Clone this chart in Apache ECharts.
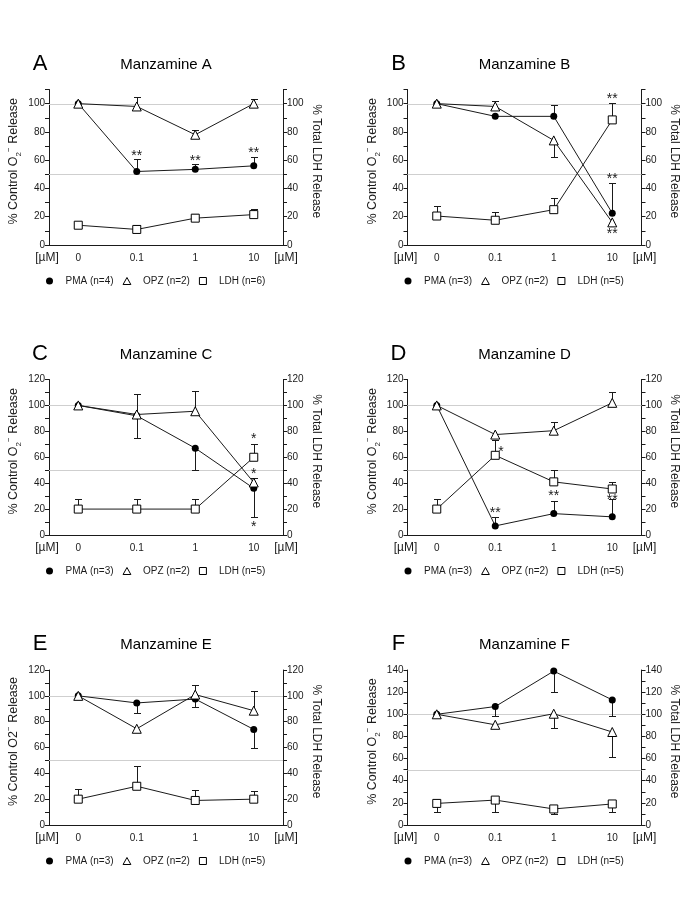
<!DOCTYPE html>
<html>
<head>
<meta charset="utf-8">
<script src="https://cdn.jsdelivr.net/npm/echarts@6/dist/echarts.min.js"></script>
<style>
  html, body { margin: 0; padding: 0; background: #fff; }
  #chart { width: 685px; height: 916px; }
</style>
</head>
<body>
<div id="chart"></div>
<script>
// ---- data ----
const doses = ['0', '0.1', '1', '10'];
const letters = ['A', 'B', 'C', 'D', 'E', 'F'];
const titles = ['Manzamine A', 'Manzamine B', 'Manzamine C', 'Manzamine D', 'Manzamine E', 'Manzamine F'];
const yMaxes = [110, 110, 120, 120, 120, 140];
const nPMA = [4, 3, 3, 3, 3, 3];
const nOPZ = [2, 2, 2, 2, 2, 2];
const nLDH = [6, 5, 5, 5, 5, 5];
const refLines = [50, 100];

// Manzamine A
const pmaA = [100, 52, 53.5, 56];
const pmaErrA = [null, 61, 57, 62];
const opzA = [100, 98, 78, 100];
const opzErrA = [null, 105, 81, 103];
const ldhA = [14, 11, 19, 21.5];
const ldhErrA = [null, 14, 22, 25.5];
const starsA = [[1, 65, '**'], [2, 61.5, '**'], [3, 67, '**']];

// Manzamine B
const pmaB = [100, 91, 91, 22.5];
const pmaErrB = [null, null, 99, 44];
const opzB = [100, 98, 74, 16];
const opzErrB = [null, 102, 62, null];
const ldhB = [20.5, 17.5, 25, 88.5];
const ldhErrB = [27.5, 23, 33.5, 100.5];
const starsB = [[3, 105, '**'], [3, 48.5, '**'], [3, 9.5, '**']];

// Manzamine C
const pmaC = [100, 92, 67, 36];
const pmaErrC = [null, 75, 50, 14];
const opzC = [100, 93, 95.5, 40.5];
const opzErrC = [null, 109, 111.5, 44];
const ldhC = [20, 20, 20, 60];
const ldhErrC = [27.5, 27.5, 27.5, 70.5];
const starsC = [[3, 76.5, '*'], [3, 49, '*'], [3, 8.5, '*']];

// Manzamine D
const pmaD = [100, 7, 16.5, 14];
const pmaErrD = [null, 14, 26.5, 28];
const opzD = [100, 77.5, 80.5, 102];
const opzErrD = [null, null, 87, 110];
const ldhD = [20, 61.5, 41, 35.5];
const ldhErrD = [27.5, 73, 50, 41];
const starsD = [[1, 19.5, '**'], [1, 66, '*', 'right'], [2, 32, '**'], [3, 29.5, '**']];

// Manzamine E
const pmaE = [100, 94.5, 97.5, 74];
const pmaErrE = [null, 86.5, 91, 60];
const opzE = [100, 74.5, 101, 88.5];
const opzErrE = [null, null, 108.5, 104];
const ldhE = [20, 30, 19, 20];
const ldhErrE = [27.5, 45.5, 27, 26.5];
const starsE = [];

// Manzamine F
const pmaF = [100, 107, 139, 113];
const pmaErrF = [null, 98.5, 120.5, 98.5];
const opzF = [100, 90.5, 100.5, 84];
const opzErrF = [null, null, 88, 61];
const ldhF = [19.5, 22.5, 14.5, 19];
const ldhErrF = [11.5, 11.5, 9.5, 11.5];
const starsF = [];

const panels = [
  { pma: pmaA, pmaErr: pmaErrA, opz: opzA, opzErr: opzErrA, ldh: ldhA, ldhErr: ldhErrA, stars: starsA },
  { pma: pmaB, pmaErr: pmaErrB, opz: opzB, opzErr: opzErrB, ldh: ldhB, ldhErr: ldhErrB, stars: starsB },
  { pma: pmaC, pmaErr: pmaErrC, opz: opzC, opzErr: opzErrC, ldh: ldhC, ldhErr: ldhErrC, stars: starsC },
  { pma: pmaD, pmaErr: pmaErrD, opz: opzD, opzErr: opzErrD, ldh: ldhD, ldhErr: ldhErrD, stars: starsD },
  { pma: pmaE, pmaErr: pmaErrE, opz: opzE, opzErr: opzErrE, ldh: ldhE, ldhErr: ldhErrE, stars: starsE },
  { pma: pmaF, pmaErr: pmaErrF, opz: opzF, opzErr: opzErrF, ldh: ldhF, ldhErr: ldhErrF, stars: starsF },
];

// ---- layout ----
const FONT = '"Liberation Sans", Arial, Helvetica, sans-serif';
const INK = '#1a1a1a';
const colLeft = [49, 407.5];
const plotW = 234;
const rowTop = [89.5, 379.5, 670];
const plotH = [155.5, 155.5, 155];
const TRI_ICON = 'path://M5,0L10,9L0,9Z';
const SQ_ICON = 'path://M0,0H10V10H0Z';

const chart = echarts.init(document.getElementById('chart'));

const grids = [], xAxes = [], yAxes = [], series = [], legends = [], graphics = [];

const tickFmt = v => (v % 20 === 0 ? String(v) : '');

panels.forEach((p, i) => {
  const col = i % 2, row = Math.floor(i / 2);
  const left = colLeft[col], top = rowTop[row], h = plotH[row];
  const bottom = top + h;
  grids.push({ left: left, top: top, width: plotW, height: h });

  xAxes.push({
    gridIndex: i, type: 'category', data: doses, boundaryGap: true,
    axisLine: { lineStyle: { color: INK, width: 1 } },
    axisTick: { show: false },
    axisLabel: { fontSize: 10, color: INK, fontFamily: FONT, margin: 8 },
    splitLine: { show: false }
  });

  const yBase = {
    gridIndex: i, type: 'value', min: 0, max: yMaxes[i], interval: 10,
    axisLine: { show: true, lineStyle: { color: INK, width: 1 } },
    axisTick: { show: true, length: 4, lineStyle: { color: INK } },
    axisLabel: { fontSize: 10, color: INK, fontFamily: FONT, margin: 4, formatter: tickFmt },
    splitLine: { show: false },
    nameLocation: 'middle'
  };
  const o2Name = i === 4 ? '% Control O2{sup|−} Release' : '% Control O{sub|2}{sup|−} Release';
  yAxes.push(Object.assign({}, yBase, {
    position: 'left',
    name: o2Name, nameRotate: 90, nameGap: 26,
    nameTextStyle: {
      fontSize: 12.5, color: INK, fontFamily: FONT, lineHeight: 18, padding: [0, 0, 0, 12],
      rich: {
        sub: { fontSize: 8, lineHeight: 8, verticalAlign: 'bottom', fontFamily: FONT, color: INK },
        sup: { fontSize: 8, lineHeight: 8, verticalAlign: 'top', fontFamily: FONT, color: INK }
      }
    }
  }));
  yAxes.push(Object.assign({}, yBase, {
    position: 'right',
    name: '% Total LDH Release', nameRotate: -90, nameGap: 27,
    nameTextStyle: { fontSize: 12, color: INK, fontFamily: FONT, padding: [0, 12, 0, 0] }
  }));

  const pmaName = 'PMA (n=' + nPMA[i] + ')';
  const opzName = 'OPZ (n=' + nOPZ[i] + ')';
  const ldhName = 'LDH (n=' + nLDH[i] + ')';

  // reference lines at 50 and 100
  series.push({
    type: 'custom', xAxisIndex: i, yAxisIndex: 2 * i, z: 1, silent: true,
    data: refLines.map(v => [0, v]),
    renderItem: (params, api) => {
      const cs = params.coordSys;
      const y = Math.round(api.coord([0, api.value(1)])[1]) + 0.5;
      return { type: 'line', shape: { x1: cs.x, y1: y, x2: cs.x + cs.width, y2: y },
        style: { stroke: '#cfcfcf', lineWidth: 1 } };
    }
  });

  // error bars (one-sided, T-shaped)
  const errData = [];
  [[p.pma, p.pmaErr], [p.opz, p.opzErr], [p.ldh, p.ldhErr]].forEach(([vals, errs]) => {
    errs.forEach((e, k) => { if (e != null) errData.push([k, vals[k], e]); });
  });
  series.push({
    type: 'custom', xAxisIndex: i, yAxisIndex: 2 * i, z: 2, silent: true,
    encode: { x: 0, y: 1 },
    data: errData,
    renderItem: (params, api) => {
      const a = api.coord([api.value(0), api.value(1)]);
      const b = api.coord([api.value(0), api.value(2)]);
      const x = Math.round(a[0]) + 0.5;
      const yb = Math.round(b[1]) + 0.5;
      return { type: 'group', children: [
        { type: 'line', shape: { x1: x, y1: a[1], x2: x, y2: yb }, style: { stroke: INK, lineWidth: 1 } },
        { type: 'line', shape: { x1: x - 3.5, y1: yb, x2: x + 3.5, y2: yb }, style: { stroke: INK, lineWidth: 1 } }
      ] };
    }
  });

  const lineBase = {
    type: 'line', xAxisIndex: i, yAxisIndex: 2 * i, z: 3,
    showSymbol: true, showAllSymbol: true, animation: false,
    lineStyle: { color: INK, width: 1 }
  };
  series.push(Object.assign({}, lineBase, {
    name: pmaName, data: p.pma, symbol: 'circle', symbolSize: 7,
    itemStyle: { color: '#000' }
  }));
  series.push(Object.assign({}, lineBase, {
    name: opzName, data: p.opz, symbol: 'triangle', symbolSize: 9,
    itemStyle: { color: '#fff', borderColor: '#000', borderWidth: 1 }
  }));
  series.push(Object.assign({}, lineBase, {
    name: ldhName, data: p.ldh, symbol: 'rect', symbolSize: 8,
    itemStyle: { color: '#fff', borderColor: '#000', borderWidth: 1 }
  }));

  // significance asterisks
  const stars = p.stars;
  series.push({
    type: 'custom', xAxisIndex: i, yAxisIndex: 2 * i, z: 4, silent: true,
    encode: { x: 0, y: 1 },
    data: stars.map(s => [s[0], s[1]]),
    renderItem: (params, api) => {
      const s = stars[params.dataIndex];
      const c = api.coord([api.value(0), api.value(1)]);
      const right = s[3] === 'right';
      return { type: 'text', x: right ? c[0] + 3 : c[0], y: c[1] + 3,
        style: { text: s[2], fontSize: 14, fontFamily: FONT, fill: INK,
          align: right ? 'left' : 'center', verticalAlign: 'middle' } };
    }
  });

  legends.push({
    left: left - 8, top: bottom + 36 - 10, orient: 'horizontal',
    itemWidth: 8, itemHeight: 7, itemGap: 9, selectedMode: false,
    textStyle: { fontSize: 10, color: INK, fontFamily: FONT, padding: [0, 0, 0, 7] },
    data: [
      { name: pmaName, icon: 'circle', itemStyle: { color: '#000', borderWidth: 0 } },
      { name: opzName, icon: TRI_ICON, itemStyle: { color: '#fff', borderColor: '#000', borderWidth: 1 } },
      { name: ldhName, icon: SQ_ICON, itemStyle: { color: '#fff', borderColor: '#000', borderWidth: 1 } }
    ]
  });

  // panel letter, title, unit labels
  graphics.push({ type: 'text', x: left - 9, y: top - 26,
    style: { text: letters[i], fontSize: 22, fontFamily: FONT, fill: '#000', align: 'center', verticalAlign: 'middle' } });
  graphics.push({ type: 'text', x: left + plotW / 2, y: top - 25,
    style: { text: titles[i], fontSize: 15, fontFamily: FONT, fill: '#000', align: 'center', verticalAlign: 'middle' } });
  graphics.push({ type: 'text', x: left - 2, y: bottom + 13,
    style: { text: '[µM]', fontSize: 12, fontFamily: FONT, fill: INK, align: 'center', verticalAlign: 'middle' } });
  graphics.push({ type: 'text', x: left + plotW + 3, y: bottom + 13,
    style: { text: '[µM]', fontSize: 12, fontFamily: FONT, fill: INK, align: 'center', verticalAlign: 'middle' } });
});

const option = {
  backgroundColor: '#fff',
  animation: false,
  grid: grids,
  xAxis: xAxes,
  yAxis: yAxes,
  legend: legends,
  series: series,
  graphic: graphics
};

option && chart.setOption(option);

window.addEventListener('resize', () => {
  chart.resize();
});
</script>
</body>
</html>
